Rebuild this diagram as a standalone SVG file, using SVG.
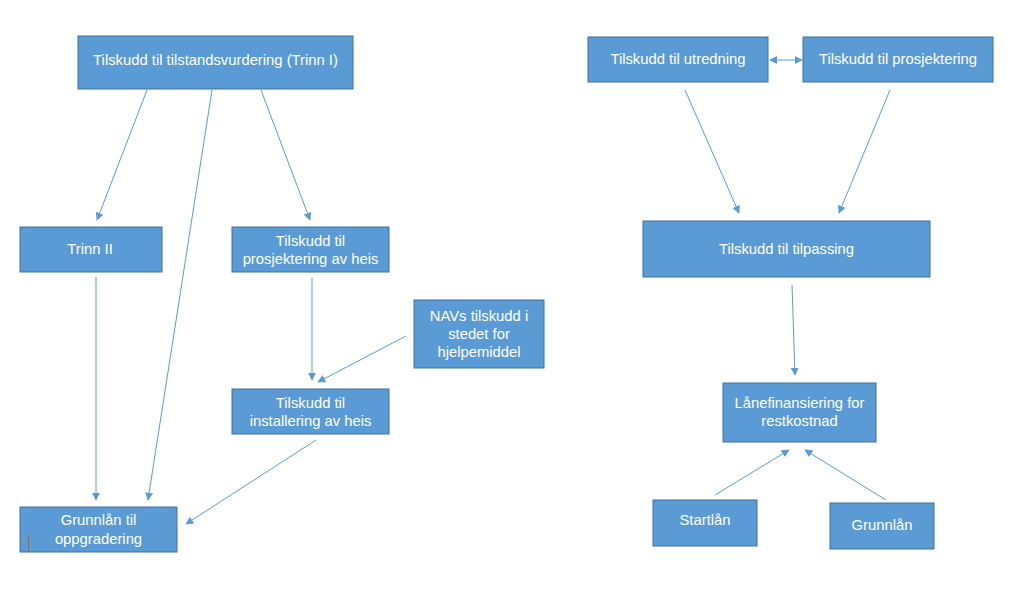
<svg xmlns="http://www.w3.org/2000/svg" width="1014" height="595" viewBox="0 0 1014 595">
<style>
.n rect{fill:#5B9BD5;stroke:#41719C;stroke-width:1}
.n text{fill:#fff;font-family:"Liberation Sans",Arial,sans-serif;font-size:14.8px;text-anchor:middle}
.c line{stroke:#5B9BD5;stroke-width:1;fill:none}
</style>
<defs>
<marker id="ah" viewBox="0 0 10 10" refX="9" refY="5" markerWidth="8" markerHeight="8" orient="auto-start-reverse" markerUnits="userSpaceOnUse">
<path d="M0,0 L10,5 L0,10 z" fill="#5B9BD5"/>
</marker>
</defs>
<rect width="1014" height="595" fill="#fff"/>
<g class="c">
<line x1="147" y1="90" x2="97" y2="220" marker-end="url(#ah)"/>
<line x1="212" y1="90" x2="148" y2="500" marker-end="url(#ah)"/>
<line x1="261" y1="90" x2="310" y2="220" marker-end="url(#ah)"/>
<line x1="96" y1="277" x2="96" y2="500" marker-end="url(#ah)"/>
<line x1="312" y1="278" x2="312" y2="380" marker-end="url(#ah)"/>
<line x1="406" y1="336" x2="318" y2="382" marker-end="url(#ah)"/>
<line x1="316" y1="440" x2="186" y2="524" marker-end="url(#ah)"/>
<line x1="770" y1="60" x2="802" y2="60" marker-start="url(#ah)" marker-end="url(#ah)"/>
<line x1="685" y1="90" x2="739" y2="213" marker-end="url(#ah)"/>
<line x1="890" y1="90" x2="839" y2="213" marker-end="url(#ah)"/>
<line x1="792" y1="285" x2="795" y2="375" marker-end="url(#ah)"/>
<line x1="715" y1="495" x2="789" y2="450" marker-end="url(#ah)"/>
<line x1="886" y1="500" x2="805" y2="450" marker-end="url(#ah)"/>
</g>
<g id="n1" class="n"><rect x="78" y="36" width="275" height="53"/><text x="215.5" y="65">Tilskudd til tilstandsvurdering (Trinn I)</text></g>
<g id="n2" class="n"><rect x="20" y="227" width="142" height="45"/><text x="90" y="254">Trinn II</text></g>
<g id="n3" class="n"><rect x="232" y="227" width="157" height="45"/><text x="310.5" y="246">Tilskudd til</text><text x="310.5" y="264">prosjektering av heis</text></g>
<g id="n4" class="n"><rect x="414" y="300" width="130" height="68"/><text x="479" y="321">NAVs tilskudd i</text><text x="479" y="339">stedet for</text><text x="479" y="357">hjelpemiddel</text></g>
<g id="n5" class="n"><rect x="232" y="389" width="157" height="45"/><text x="310.5" y="408">Tilskudd til</text><text x="310.5" y="426">installering av heis</text></g>
<g id="n6" class="n"><rect x="20" y="507" width="157" height="45"/><text x="98.5" y="525">Grunnlån til</text><text x="98.5" y="544">oppgradering</text><line x1="28.5" y1="536" x2="28.5" y2="551" stroke="#C55A11" stroke-width="1"/></g>
<g id="n7" class="n"><rect x="588" y="37" width="180" height="45"/><text x="678" y="64">Tilskudd til utredning</text></g>
<g id="n8" class="n"><rect x="803" y="37" width="190" height="45"/><text x="898" y="64">Tilskudd til prosjektering</text></g>
<g id="n9" class="n"><rect x="643" y="221" width="287" height="56"/><text x="786.5" y="254">Tilskudd til tilpassing</text></g>
<g id="n10" class="n"><rect x="723" y="383" width="153" height="59"/><text x="799.5" y="408">Lånefinansiering for</text><text x="799.5" y="426">restkostnad</text></g>
<g id="n11" class="n"><rect x="653" y="500" width="104" height="46"/><text x="705" y="525">Startlån</text></g>
<g id="n12" class="n"><rect x="830" y="503" width="104" height="46"/><text x="882" y="530">Grunnlån</text></g>
</svg>
